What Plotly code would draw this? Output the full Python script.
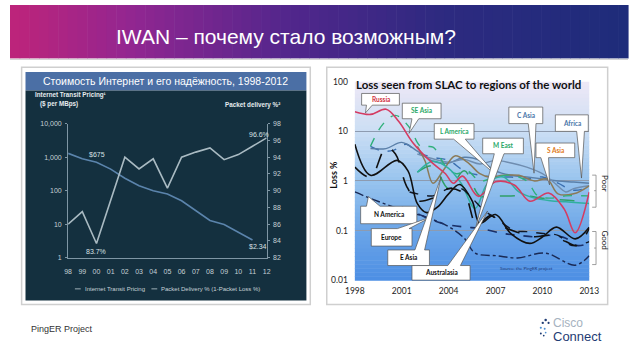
import plotly.graph_objects as go

W, H = 638, 359

# ---------------- data: left chart ----------------
year_labels = ["98", "99", "00", "01", "02", "03", "04", "05", "06", "07", "08", "09", "10", "11", "12"]
transit_price = [1300, 890, 700, 440, 235, 140, 100, 80, 50, 25, 13, 9.8, 5.7, 3.4]
packet_delivery = [86.0, 87.5, 83.7, 88.8, 94.0, 92.6, 93.8, 90.3, 94.0, 94.6, 95.1, 93.7, 94.3, 95.3, 96.3]
left_y_ticks = [1, 10, 100, 1000, 10000]
left_y_ticktext = ["1", "10", "100", "1,000", "10,000"]

# ---------------- data: right chart (loss %) ----------------
russia_yr = [1998, 1999, 2000, 2000.8, 2001.7, 2002.9, 2003.8, 2004.3, 2004.9, 2005.9, 2007, 2008.2, 2009.2, 2010.4, 2011.4, 2012.1, 2013]
russia_loss = [25, 22, 28, 16, 6, 2.4, 1.4, 0.9, 1.25, 0.49, 0.96, 0.83, 0.39, 0.57, 0.27, 0.09, 0.6]
seasia_yr = [1999, 1999.8, 2000.6, 2001.5, 2002.2, 2003, 2003.8, 2004.5, 2005.2, 2006, 2007, 2008, 2009, 2009.7, 2010.5, 2011.5, 2013]
seasia_loss = [5, 14, 21, 12, 5, 4.8, 2.0, 1.4, 1.6, 1.0, 1.2, 1.3, 1.0, 0.5, 0.45, 0.5, 0.5]
lamerica_yr = [2002, 2003, 2004, 2005, 2006, 2007, 2008, 2009, 2010, 2011, 2012, 2013]
lamerica_loss = [1.5, 2.0, 0.7, 1.6, 0.5, 0.5, 0.5, 0.5, 0.45, 0.42, 0.4, 0.4]
meast_yr = [2002, 2003, 2004, 2004.8, 2005.7, 2006.5, 2007.5, 2008.5, 2009.5, 2010.5, 2011.5, 2012.5, 2013]
meast_loss = [1.5, 2.5, 1.8, 0.9, 0.28, 0.9, 1.2, 0.6, 0.45, 0.4, 0.38, 0.36, 0.35]
casia_yr = [2002, 2003, 2004, 2005, 2006, 2007, 2008, 2009, 2010, 2010.8, 2011.5, 2012, 2013]
casia_loss = [3.5, 2.8, 2.4, 2.7, 2.2, 2.6, 2.3, 1.9, 1.4, 0.9, 0.6, 0.7, 0.8]
africa_yr = [1999, 2000, 2001, 2002, 2003, 2004, 2005, 2006, 2007, 2008, 2009, 2010, 2011, 2012, 2013]
africa_loss = [4.5, 4.5, 6, 4, 2.5, 2.3, 3.0, 2.6, 1.6, 1.3, 1.2, 1.1, 1.0, 0.95, 0.9]
africa2_yr = [1999, 1999.8, 2000.5, 2001.3, 2002, 2003, 2004, 2005, 2006, 2007, 2008, 2009, 2010, 2011, 2012, 2013]
africa2_loss = [5, 4, 4.2, 5.5, 3.8, 3.0, 2.6, 1.6, 1.3, 1.2, 1.2, 1.1, 1.2, 0.9, 0.65, 0.75]
sasia_yr = [2002, 2002.5, 2003, 2003.7, 2004.4, 2005.2, 2006, 2006.6, 2007.5, 2008.5, 2009.5, 2010.3, 2011, 2012, 2013]
sasia_loss = [5, 2.5, 0.9, 1.7, 3.2, 2.4, 1.4, 1.2, 1.3, 1.3, 1.0, 1.1, 0.55, 0.55, 0.8]
easia_yr = [1998, 1999, 2000.7, 2001.4, 2002, 2002.6, 2003.3, 2004, 2004.7, 2005.5, 2006, 2007, 2008, 2009.2, 2010, 2010.9, 2012.1, 2013]
easia_loss = [5.5, 1.3, 2.6, 1.6, 0.35, 0.23, 0.3, 0.55, 0.85, 0.4, 0.14, 0.21, 0.086, 0.055, 0.074, 0.117, 0.068, 0.117]
europe_yr = [1998, 1999, 2000, 2000.6, 2001.3, 2002, 2003, 2004, 2005, 2005.8, 2006.7, 2007.5, 2008.5, 2009.5, 2010.5, 2011.5, 2012.2, 2013]
europe_loss = [1.9, 1.2, 4.8, 3.5, 0.8, 0.4, 0.45, 0.7, 0.55, 0.13, 0.2, 0.12, 0.09, 0.075, 0.08, 0.06, 0.05, 0.11]
austral_yr = [2001.5, 2002, 2003, 2004, 2004.8, 2005.5, 2006.3, 2007, 2008.2, 2009, 2010.2, 2011, 2011.9, 2013]
austral_loss = [0.6, 0.55, 0.5, 0.7, 0.7, 0.45, 0.25, 0.18, 0.1, 0.095, 0.086, 0.08, 0.05, 0.06]
navy_yr = [2001, 2002, 2003, 2004, 2005.1, 2006, 2007.5, 2008.5, 2009.5, 2010.5, 2011.5, 2012.2, 2013]
navy_loss = [0.3, 0.22, 0.16, 0.13, 0.117, 0.11, 0.087, 0.08, 0.075, 0.08, 0.07, 0.05, 0.055]
namerica_yr = [1998, 1999.2, 2001.2, 2002.7, 2004, 2005, 2005.7, 2007.1, 2008.4, 2010.2, 2012.1, 2013]
namerica_loss = [0.6, 0.42, 0.25, 0.18, 0.12, 0.07, 0.035, 0.031, 0.028, 0.035, 0.02, 0.031]
right_year_ticks = [1998, 2001, 2004, 2007, 2010, 2013]
right_loss_ticks = [0.01, 0.1, 1, 10, 100]
right_loss_ticktext = ["0.01", "0.1", "1", "10", "100"]


def px(x):
    return x / W


def py(y):
    return 1 - y / H


shapes = []
annotations = []


def rect(x0, y0, x1, y1, fill, line=None, lw=0, layer="below"):
    shapes.append(dict(type="rect", xref="paper", yref="paper",
                       x0=px(x0), x1=px(x1), y0=py(y1), y1=py(y0),
                       fillcolor=fill, line=dict(color=line or "rgba(0,0,0,0)", width=lw),
                       layer=layer))


def seg(x0, y0, x1, y1, color, lw=1, layer="above"):
    shapes.append(dict(type="line", xref="paper", yref="paper",
                       x0=px(x0), x1=px(x1), y0=py(y0), y1=py(y1),
                       line=dict(color=color, width=lw), layer=layer))


def path(points, fill, line, lw, layer="above"):
    d = "M " + " L ".join(f"{px(x):.5f},{py(y):.5f}" for x, y in points) + " Z"
    shapes.append(dict(type="path", xref="paper", yref="paper", path=d,
                       fillcolor=fill, line=dict(color=line, width=lw), layer=layer))


def text(t, x, y, size, color, family="Liberation Sans", xanchor="center", angle=0, bold=False):
    if bold:
        t = "<b>" + t + "</b>"
    annotations.append(dict(text=t, x=px(x), y=py(y), xref="paper", yref="paper",
                            showarrow=False, xanchor=xanchor, yanchor="middle",
                            textangle=angle,
                            font=dict(size=size, color=color, family=family)))


def lerp_color(stops, t):
    for i in range(len(stops) - 1):
        t0, c0 = stops[i]
        t1, c1 = stops[i + 1]
        if t0 <= t <= t1:
            f = (t - t0) / (t1 - t0) if t1 > t0 else 0
            c = [round(c0[k] + (c1[k] - c0[k]) * f) for k in range(3)]
            return f"rgb({c[0]},{c[1]},{c[2]})"
    c = stops[-1][1]
    return f"rgb({c[0]},{c[1]},{c[2]})"


# ---------------- header band ----------------
head_stops = [(0, (190, 36, 122)), (0.2, (145, 38, 145)), (0.45, (82, 38, 140)),
              (0.7, (45, 42, 128)), (1, (30, 44, 122))]
n = 64
for i in range(n):
    x0 = W * i / n
    x1 = W * (i + 1) / n + 0.6
    rect(x0, 0, x1, 55, lerp_color(head_stops, (i + 0.5) / n))
seg(0, 56, W, 56, "#d5d5d5", 1.2, layer="below")
text("IWAN – почему стало возможным?", 285, 32, 21, "white")

# ---------------- left panel ----------------
rect(12, 64, 310, 308, "#ffffff", "#cfcfcf", 1.5)
rect(16, 69, 306, 88, "#4b6fa5")
rect(16, 88, 306, 304, "#14303f")
text("Стоимость Интернет и его надёжность, 1998-2012", 161, 78.5, 10.5, "white")
nar = "Liberation Sans Narrow, Arial Narrow, Liberation Sans"
text("Internet Transit Pricing¹", 24, 93, 6.3, "#e6ecef", nar, xanchor="left", bold=True)
text("($ per MBps)", 29, 102, 6.3, "#e6ecef", nar, xanchor="left", bold=True)
text("Packet delivery %²", 281, 103, 6.3, "#e6ecef", nar, xanchor="right", bold=True)
text("$675", 90, 154, 7, "#d8e0e4", nar)
text("83.7%", 89, 254, 7, "#d8e0e4", nar)
text("96.6%", 257, 133, 7, "#d8e0e4", nar)
text("$2.34", 256, 248, 7, "#d8e0e4", nar)
seg(67, 292, 73, 292, "#9fb0b8", 1)
text("Internet Transit Pricing", 75, 292, 6, "#c8d3d8", nar, xanchor="left")
seg(146, 292, 152, 292, "#9fb0b8", 1)
text("Packet Delivery % (1-Packet Loss %)", 154, 292, 6, "#c8d3d8", nar, xanchor="left")

# ---------------- right panel ----------------
rect(327, 64, 617, 308, "#ffffff", "#cfcfcf", 1.5)
grad_stops = [(0, (238, 232, 246)), (0.25, (203, 222, 244)), (0.5, (152, 196, 238)),
              (0.75, (108, 166, 232)), (1, (76, 142, 228))]
top, bot = 79, 283
m = 50
for i in range(m):
    y0 = top + (bot - top) * i / m
    y1 = top + (bot - top) * (i + 1) / m + 0.6
    rect(356, y0, 598, y1, lerp_color(grad_stops, (i + 0.5) / m))

text("Loss seen from SLAC to regions of the world", 473, 82, 11.5, "#111111", "Lato", bold=True)
text("Loss %", 334, 175, 9, "#111111", "Lato", angle=-90, bold=True)
text("Source: the PingER project", 533, 271, 4.5, "#1d3a78", "Lato")

# Poor / Good brackets
seg(605, 175, 605, 208, "#888888", 0.8)
seg(601, 175, 605, 175, "#888888", 0.8)
seg(601, 208, 605, 208, "#888888", 0.8)
seg(603, 191, 605, 191, "#888888", 0.8)
text("Poor", 614, 184, 8, "#222222", "Lato", angle=90)
seg(605, 233, 605, 267, "#888888", 0.8)
seg(601, 233, 605, 233, "#888888", 0.8)
seg(601, 267, 605, 267, "#888888", 0.8)
seg(603, 250, 605, 250, "#888888", 0.8)
text("Good", 614, 242, 8, "#222222", "Lato", angle=90)


def callout(x0, y0, x1, y1, side, a, b, tip, label, color):
    if side == "bottom":
        pts = [(x0, y0), (x1, y0), (x1, y1), (b, y1), tip, (a, y1), (x0, y1)]
    else:
        pts = [(x0, y0), (a, y0), tip, (b, y0), (x1, y0), (x1, y1), (x0, y1)]
    path(pts, "#ffffff", "#555555", 0.7)
    text(label, (x0 + x1) / 2, (y0 + y1) / 2, 6.5, color, "Lato", bold=True)


callout(363, 91, 402, 103, "bottom", 368, 374, (367, 111), "Russia", "#d0303e")
callout(405, 101, 445, 117, "bottom", 415, 422, (412, 132), "SE Asia", "#2aa868")
callout(438, 122, 479, 138, "bottom", 458, 470, (502, 175), "L America", "#2aa868")
callout(488, 137, 530, 153, "bottom", 500, 510, (480, 232), "M East", "#2aa868")
callout(515, 105, 550, 122, "bottom", 535, 543, (541, 173), "C Asia", "#4a76a8")
callout(563, 113, 597, 130, "bottom", 585, 593, (590, 178), "Africa", "#4a76a8")
callout(543, 142, 583, 157, "bottom", 548, 556, (557, 185), "S Asia", "#e07a20")
callout(362, 207, 420, 225, "top", 368, 382, (370, 197), "N America", "#111111")
callout(373, 230, 415, 248, "top", 400, 412, (435, 218), "Europe", "#111111")
callout(390, 252, 433, 268, "top", 418, 428, (445, 177), "E Asia", "#111111")
callout(415, 268, 475, 283, "top", 452, 465, (493, 212), "Australasia", "#111111")

# ---------------- footer ----------------
text("PingER Project", 20, 333, 9, "#333333", "Liberation Sans", xanchor="left")
text("Cisco", 558, 327, 12, "#a6b2c0", "Liberation Sans", xanchor="left")
text("Connect", 558, 341, 13, "#1f3c74", "Liberation Sans", xanchor="left")
for (cx, cy, r, col) in [(553, 324, 1.3, "#1f3c74"), (550, 327, 1.2, "#1f3c74"), (556, 327, 1.1, "#1f3c74"),
                         (548, 332, 1.1, "#4d8fd0"), (552, 333, 1.0, "#4d8fd0"),
                         (548, 338, 1.0, "#1f3c74"), (551, 340, 0.9, "#1f3c74"), (553, 337, 0.9, "#4d8fd0")]:
    shapes.append(dict(type="circle", xref="paper", yref="paper",
                       x0=px(cx - r), x1=px(cx + r), y0=py(cy + r), y1=py(cy - r),
                       fillcolor=col, line=dict(width=0), layer="above"))

fig = go.Figure()

# left chart traces
fig.add_trace(go.Scatter(x=year_labels[:len(transit_price)], y=transit_price, mode="lines",
                         line=dict(color="#5b84ac", width=1.6), xaxis="x", yaxis="y",
                         showlegend=False, hoverinfo="skip"))
fig.add_trace(go.Scatter(x=year_labels, y=packet_delivery, mode="lines",
                         line=dict(color="#a9bac2", width=1.6), xaxis="x", yaxis="y2",
                         showlegend=False, hoverinfo="skip"))

# right chart traces
series = [
    (africa2_yr, africa2_loss, "#3a6fb0", "dash", 1.4),
    (africa_yr, africa_loss, "#5a7fa8", "solid", 1.4),
    (casia_yr, casia_loss, "#6f8db0", "solid", 1.4),
    (sasia_yr, sasia_loss, "#8b7a58", "solid", 1.5),
    (seasia_yr, seasia_loss, "#30b07a", "dash", 1.4),
    (lamerica_yr, lamerica_loss, "#2f9f68", "longdash", 1.5),
    (meast_yr, meast_loss, "#30b0a0", "solid", 1.5),
    (russia_yr, russia_loss, "#d43c62", "solid", 1.6),
    (namerica_yr, namerica_loss, "#1a2a55", "dashdot", 1.4),
    (navy_yr, navy_loss, "#1a2f66", "dash", 1.6),
    (austral_yr, austral_loss, "#111827", "dash", 1.4),
    (europe_yr, europe_loss, "#111111", "longdash", 1.6),
    (easia_yr, easia_loss, "#111111", "solid", 1.6),
]
for xs, ys, col, dash, w in series:
    fig.add_trace(go.Scatter(x=xs, y=ys, mode="lines",
                             line=dict(color=col, width=w, dash=dash, shape="spline", smoothing=1.0),
                             xaxis="x2", yaxis="y3", showlegend=False, hoverinfo="skip"))

tick_font_left = dict(size=7, color="#c5d0d6", family=nar)
fig.update_layout(
    width=W, height=H,
    margin=dict(l=0, r=0, t=0, b=0),
    paper_bgcolor="white",
    plot_bgcolor="rgba(0,0,0,0)",
    showlegend=False,
    xaxis=dict(domain=[px(60), px(265)], anchor="y", type="category", range=[0, 14],
               showline=True, linecolor="#7f96a4", linewidth=1, ticks="",
               showgrid=False, zeroline=False, tickfont=tick_font_left, ticklabelstandoff=7),
    yaxis=dict(domain=[py(260), py(122)], anchor="x", type="log", range=[0, 4],
               tickvals=left_y_ticks, ticktext=left_y_ticktext,
               showline=True, linecolor="#7f96a4", linewidth=1, ticks="outside", ticklen=2,
               tickcolor="#7f96a4", showgrid=False, zeroline=False, tickfont=tick_font_left,
               ticklabelstandoff=2),
    yaxis2=dict(overlaying="y", side="right", anchor="x", range=[82, 98], dtick=2,
                showline=True, linecolor="#7f96a4", linewidth=1, ticks="outside", ticklen=2,
                tickcolor="#7f96a4", showgrid=False, zeroline=False, tickfont=tick_font_left,
                ticklabelstandoff=2),
    xaxis2=dict(domain=[px(356), px(598)], anchor="y3", range=[1998, 2013],
                tickvals=right_year_ticks, showline=False, showgrid=False, zeroline=False,
                ticks="", tickfont=dict(size=8.5, color="#222222", family="Lato"),
                ticklabelstandoff=4),
    yaxis3=dict(domain=[py(283), py(79)], anchor="x2", type="log", range=[-2, 2],
                tickvals=right_loss_ticks, ticktext=right_loss_ticktext,
                showgrid=True, gridcolor="#8d9bb0", gridwidth=0.8, showline=False,
                zeroline=False, ticks="", tickfont=dict(size=8.5, color="#222222", family="Lato"),
                ticklabelstandoff=6),
    shapes=shapes,
    annotations=annotations,
)

fig.write_html("out.html", config={"displayModeBar": False},
               post_script="document.body.style.margin='0px';")
